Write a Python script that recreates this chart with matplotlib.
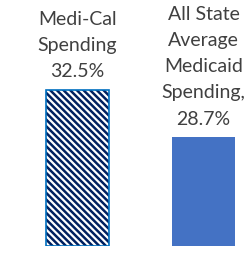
import matplotlib.pyplot as plt

labels = ["Medi-Cal\nSpending\n32.5%", "All State\nAverage\nMedicaid\nSpending,\n28.7%"]
values = [32.5, 28.7]
ymin = 20

fig = plt.figure(figsize=(2.5, 2.6), dpi=100)
# axes spans the whole figure, limits chosen so bars land where they should
ax = fig.add_axes([0, 14 / 260, 1, 246 / 260])
ax.set_xlim(-77.5 / 126, (250 - 77.5) / 126)
ax.set_ylim(ymin, ymin + 246 / 12.5)
ax.axis("off")

plt.rcParams["hatch.linewidth"] = 1.8

x = list(range(len(values)))
heights = [v - ymin for v in values]
bars = ax.bar(x, heights, bottom=ymin, width=0.5,
              color=["white", "#4472C4"], linewidth=0)
bars[0].set_hatch("\\\\\\\\\\")
bars[0].set_edgecolor("#002060")
# blue outline on the patterned bar
ax.bar(x[0], heights[0], bottom=ymin, width=0.5, fill=False,
       edgecolor="#0070C0", linewidth=1.2)

for xi, v, lab in zip(x, values, labels):
    ax.annotate(lab, (xi, v), xytext=(0, 7), textcoords="offset points",
                ha="center", va="bottom", fontsize=14, family="Lato",
                color="#404040", linespacing=1.65)

fig.savefig("out.png", dpi=100)
